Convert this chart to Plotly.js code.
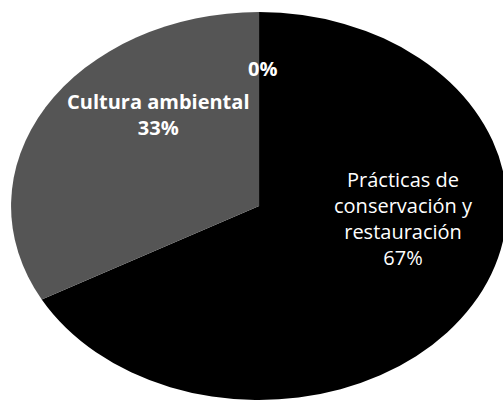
<!DOCTYPE html>
<html>
<head>
<meta charset="utf-8">
<script src="https://cdn.plot.ly/plotly-3.0.1.min.js"></script>
<style>html,body{margin:0;padding:0;background:#fff;}#chart{width:503px;height:403px;}</style>
</head>
<body>
<div id="chart"></div>
<script>
// Data
const categories = ["Prácticas de<br>conservación y<br>restauración", "Cultura ambiental", ""];
const values = [67, 33, 0];
const percentLabels = ["67%", "33%", "0%"];
const sliceColors = ["#000000", "#555555", "#555555"];

// label placement (paper coords) for each category
const labelX = [0.803, 0.314, 0.521];
const labelY = [0.458, 0.717, 0.831];
const labelBold = [false, true, true];

const annotations = categories.map((c, i) => ({
  xref: "paper", yref: "paper",
  x: labelX[i], y: labelY[i],
  xanchor: "center", yanchor: "middle",
  showarrow: false,
  text: (c ? (labelBold[i] ? "<b>" + c + "</b>" : c) + "<br>" : "") + (labelBold[i] ? "<b>" + percentLabels[i] + "</b>" : percentLabels[i]),
  font: {family: "'Open Sans', Lato, sans-serif", size: 20, color: "#ffffff"}
}));

const trace = {
  type: "pie",
  labels: categories,
  values: values,
  sort: false,
  direction: "clockwise",
  rotation: 0,
  textinfo: "none",
  hoverinfo: "skip",
  marker: {colors: sliceColors, line: {color: "#ffffff", width: 0}},
  domain: {x: [0.03, 1], y: [0.0074, 0.97]},
  showlegend: false
};

const layout = {
  width: 503, height: 403,
  margin: {l: 0, r: 0, t: 0, b: 0},
  paper_bgcolor: "#ffffff",
  plot_bgcolor: "#ffffff",
  showlegend: false,
  annotations: annotations
};

Plotly.newPlot("chart", [trace], layout, {displayModeBar: false, staticPlot: true}).then(gd => {
  // stretch the pie horizontally into an ellipse like the reference
  const cd0 = gd.calcdata[0][0];
  const cx = cd0.cx;
  const r = cd0.r;
  const sx = 248 / r;
  const layer = gd.querySelector(".pielayer");
  if (layer) layer.setAttribute("transform", "translate(" + cx + ",0) scale(" + sx + ",1) translate(" + (-cx) + ",0)");
});
</script>
</body>
</html>
